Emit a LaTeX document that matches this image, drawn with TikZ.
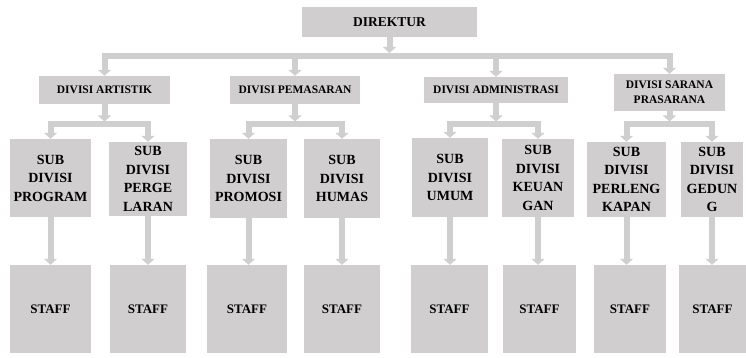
\documentclass[tikz,border=0pt]{standalone}
\usepackage{fontspec}
\setmainfont{Liberation Serif}
\usetikzlibrary{arrows.meta}
\definecolor{boxgray}{HTML}{D0CECE}
\definecolor{linegray}{HTML}{D0CFCF}

\begin{document}
\begin{tikzpicture}[x=1pt,y=-1pt,
    kotak/.style={fill=boxgray,inner sep=0pt,align=center},
    fdir/.style={font=\fontsize{13.5}{16}\selectfont\bfseries},
    fdiv/.style={font=\fontsize{11.5}{15}\selectfont\bfseries},
    fsub/.style={font=\fontsize{14}{18.5}\selectfont\bfseries},
    fstaff/.style={font=\fontsize{13}{16}\selectfont\bfseries},
    garis/.style={draw=linegray,line width=6pt,line cap=rect},
    panah/.style={draw=linegray,line width=6pt,-{Triangle[width=13pt,length=6pt]}}]
  \useasboundingbox (0,0) rectangle (746,358);

  % top
  \node[kotak,fdir,minimum width=175pt,minimum height=30pt] (dir) at (389.5,22) {DIREKTUR};

  % divisions
  \node[kotak,fdiv,minimum width=131pt,minimum height=28pt] (artistik) at (104.5,90) {DIVISI ARTISTIK};
  \node[kotak,fdiv,minimum width=130pt,minimum height=28pt] (pemasaran) at (295,90) {DIVISI PEMASARAN};
  \node[kotak,fdiv,minimum width=144pt,minimum height=26pt] (admin) at (496,90) {DIVISI ADMINISTRASI};
  \node[kotak,fdiv,minimum width=111pt,minimum height=37pt] (sarana) at (669.5,92.5) {DIVISI SARANA\\PRASARANA};

  % sub divisions
  \node[kotak,fsub,minimum width=81pt,minimum height=78pt] (program) at (50.5,178) {SUB\\DIVISI\\PROGRAM};
  \node[kotak,fsub,minimum width=78pt,minimum height=74pt] (pergelaran) at (148,179) {SUB\\DIVISI\\PERGE\\LARAN};
  \node[kotak,fsub,minimum width=77pt,minimum height=79pt] (promosi) at (248.5,178.5) {SUB\\DIVISI\\PROMOSI};
  \node[kotak,fsub,minimum width=76pt,minimum height=79pt] (humas) at (342,178.5) {SUB\\DIVISI\\HUMAS};
  \node[kotak,fsub,minimum width=76pt,minimum height=79pt] (umum) at (450,177.5) {SUB\\DIVISI\\UMUM};
  \node[kotak,fsub,minimum width=72pt,minimum height=78pt] (keuangan) at (538,178) {SUB\\DIVISI\\KEUAN\\GAN};
  \node[kotak,fsub,minimum width=79pt,minimum height=75pt] (perlengkapan) at (626.5,179.5) {SUB\\DIVISI\\PERLENG\\KAPAN};
  \node[kotak,fsub,minimum width=62pt,minimum height=75pt] (gedung) at (712,179.5) {SUB\\DIVISI\\GEDUN\\G};

  % staff
  \node[kotak,fstaff,minimum width=81pt,minimum height=88pt] (staff1) at (50.5,309) {STAFF};
  \node[kotak,fstaff,minimum width=76pt,minimum height=88pt] (staff2) at (148,309) {STAFF};
  \node[kotak,fstaff,minimum width=80pt,minimum height=88pt] (staff3) at (247,309) {STAFF};
  \node[kotak,fstaff,minimum width=76pt,minimum height=88pt] (staff4) at (342,309) {STAFF};
  \node[kotak,fstaff,minimum width=77pt,minimum height=88pt] (staff5) at (449.5,309) {STAFF};
  \node[kotak,fstaff,minimum width=73pt,minimum height=88pt] (staff6) at (539.5,309) {STAFF};
  \node[kotak,fstaff,minimum width=72pt,minimum height=88pt] (staff7) at (630,309) {STAFF};
  \node[kotak,fstaff,minimum width=67pt,minimum height=88pt] (staff8) at (712.5,309) {STAFF};

  \coordinate (bar1) at (0,56);
  \coordinate (bar2) at (0,124.5);

  % direktur to divisions
  \draw[panah,shorten >=3pt] (dir.south) -- (dir |- bar1);
  \draw[garis] (artistik |- bar1) -- (sarana |- bar1);
  \draw[panah] (artistik |- bar1) -- (artistik.north);
  \draw[panah] (pemasaran |- bar1) -- (pemasaran.north);
  \draw[panah] (admin |- bar1) -- (admin.north);
  \draw[panah] (sarana |- bar1) -- (sarana.north);

  % divisions to sub divisions
  \draw[panah,shorten >=3pt] (artistik.south) -- (artistik |- bar2);
  \draw[garis] (program |- bar2) -- (pergelaran |- bar2);
  \draw[panah] (program |- bar2) -- (program.north);
  \draw[panah] (pergelaran |- bar2) -- (pergelaran.north);

  \draw[panah,shorten >=3pt] (pemasaran.south) -- (pemasaran |- bar2);
  \draw[garis] (promosi |- bar2) -- (humas |- bar2);
  \draw[panah] (promosi |- bar2) -- (promosi.north);
  \draw[panah] (humas |- bar2) -- (humas.north);

  \draw[panah,shorten >=3pt] (admin.south) -- (admin |- bar2);
  \draw[garis] (umum |- bar2) -- (keuangan |- bar2);
  \draw[panah] (umum |- bar2) -- (umum.north);
  \draw[panah] (keuangan |- bar2) -- (keuangan.north);

  \draw[panah,shorten >=3pt] (sarana.south) -- (sarana |- bar2);
  \draw[garis] (perlengkapan |- bar2) -- (gedung |- bar2);
  \draw[panah] (perlengkapan |- bar2) -- (perlengkapan.north);
  \draw[panah] (gedung |- bar2) -- (gedung.north);

  % sub divisions to staff
  \draw[panah] (program.south) -- (program |- staff1.north);
  \draw[panah] (pergelaran.south) -- (pergelaran |- staff2.north);
  \draw[panah] (promosi.south) -- (promosi |- staff3.north);
  \draw[panah] (humas.south) -- (humas |- staff4.north);
  \draw[panah] (umum.south) -- (umum |- staff5.north);
  \draw[panah] (keuangan.south) -- (keuangan |- staff6.north);
  \draw[panah] (perlengkapan.south) -- (perlengkapan |- staff7.north);
  \draw[panah] (gedung.south) -- (gedung |- staff8.north);
\end{tikzpicture}
\end{document}
